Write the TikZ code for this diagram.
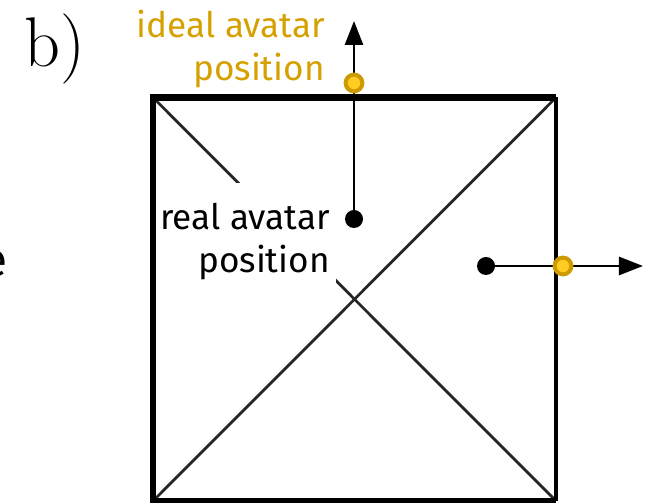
\documentclass[tikz,border=0pt]{standalone}
\usepackage{fontspec}
\setsansfont{Fira Sans}
\usetikzlibrary{arrows.meta}
\definecolor{goldtext}{RGB}{214,160,0}
\definecolor{goldring}{RGB}{205,155,0}
\definecolor{goldfill}{RGB}{255,204,34}
\begin{document}
\begin{tikzpicture}[
x=0.025cm, y=-0.025cm,
edge/.style={line width=4.3pt, line cap=square, line join=miter},
diag/.style={line width=2pt, draw=black!85},
lbl/.style={font=\sffamily\fontsize{25}{30.6}\selectfont, align=right, inner sep=0pt},
dot/.style={circle, fill=black, inner sep=0pt, minimum size=0.45cm},
ring/.style={circle, draw=goldring, fill=goldfill, line width=2.8pt, inner sep=0pt, minimum size=0.42cm},
move/.style={line width=2pt, -{Triangle[length=0.6cm, width=0.45cm]}}
]
\useasboundingbox (0,0) rectangle (652,503);
\begin{scope}
\clip (0,0) rectangle (652,503);
\node[font=\sffamily\fontsize{34}{40}\selectfont, inner sep=0pt, anchor=base east] (cut) at (8,277) {e};
\end{scope}
\node[font=\fontsize{50}{55}\selectfont, inner sep=0pt, anchor=base west] (panel) at (24,67) {b)};
\coordinate (tl) at (153,97.5);
\coordinate (tr) at (556,97.5);
\coordinate (br) at (556,501);
\coordinate (bl) at (153,501);
\draw[diag] (tl) -- (br);
\draw[diag] (bl) -- (tr);
\node[lbl, fill=white, inner xsep=0.15cm, inner ysep=0.5cm, anchor=north east] (realLbl) at (336,183) {real avatar\\position};
\draw[edge] (tr) -- (tl) -- (bl) -- (br);
\draw[line width=3pt] (tr) -- (br);
\node[lbl, text=goldtext, anchor=north east] (idealLbl) at (325,10) {ideal avatar\\position};
\node[dot] (real) at (354,219) {};
\coordinate (upTip) at (354,21);
\draw[move] (real) -- (upTip);
\node[ring] (idealUp) at (354,83) {};
\node[dot] (realSide) at (486,266) {};
\coordinate (sideTip) at (643,266);
\draw[move] (realSide) -- (sideTip);
\node[ring] (idealSide) at (563,266) {};
\end{tikzpicture}
\end{document}
